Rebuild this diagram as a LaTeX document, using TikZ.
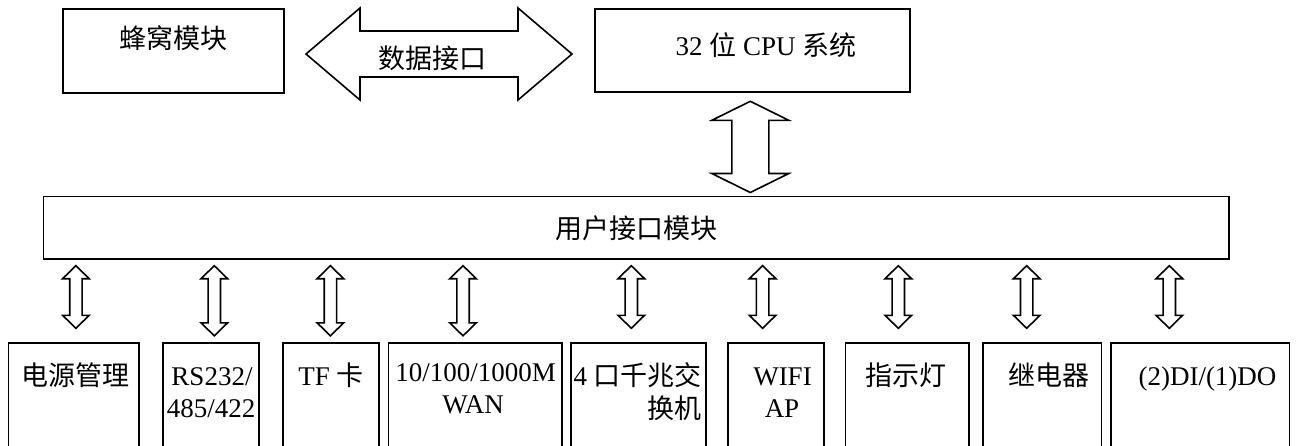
\documentclass[tikz,border=0pt]{standalone}
\usepackage{fontspec}
\setmainfont{Liberation Serif}
\newfontfamily\cjk{Noto Sans CJK SC}
\usetikzlibrary{calc}
% vertical double block arrow: #1 x, #2 upper node, #3 lower node, #4 top gap, #5 bottom gap,
% #6 head half width, #7 shaft half width, #8 head length
\newcommand\vdarrow[8]{%
  \coordinate (vt) at ($(#1,0 |- #2.south)+(0,#4)$);
  \coordinate (vb) at ($(#1,0 |- #3.north)-(0,#5)$);
  \draw[blockarrow] (vt) -- ($(vt)+(#6,#8)$) -- ($(vt)+(#7,#8)$) -- ($(vb)+(#7,-#8)$)
    -- ($(vb)+(#6,-#8)$) -- (vb) -- ($(vb)+(-#6,-#8)$) -- ($(vb)+(-#7,-#8)$)
    -- ($(vt)+(-#7,#8)$) -- ($(vt)+(-#6,#8)$) -- cycle;
}
\begin{document}
\begin{tikzpicture}[x=1pt,y=-1pt,
  box/.style={draw, line width=1.8pt, inner sep=0pt, outer sep=0pt, anchor=north west},
  lbl/.style={inner sep=0pt, anchor=base, font=\fontsize{27}{32}\selectfont},
  blockarrow/.style={draw, line width=1.6pt, fill=white, line join=miter}]
\useasboundingbox (0,0) rectangle (1299,445);
\clip (0,0) rectangle (1299,445);

% top row
\node[box, minimum width=220.7pt, minimum height=84pt] (cell) at (63.3,9.3) {};
\node[box, minimum width=315pt, minimum height=83pt] (cpu) at (595,9.3) {};
\node[lbl] (celltxt) at (173,48) {\cjk 蜂窝模块};
\node[lbl] (cputxt) at (766,55) {32 {\cjk 位} CPU {\cjk 系统}};

% horizontal data interface arrow
\coordinate (hl) at ($(cell.east |- 0,54)+(22,0)$);
\coordinate (hr) at ($(cpu.west |- 0,54)-(23,0)$);
\draw[blockarrow] (hl) -- ($(hl)+(54,-46)$) -- ($(hl)+(54,-23)$) -- ($(hr)+(-54,-23)$)
  -- ($(hr)+(-54,-46)$) -- (hr) -- ($(hr)+(-54,46)$) -- ($(hr)+(-54,23)$)
  -- ($(hl)+(54,23)$) -- ($(hl)+(54,46)$) -- cycle;
\node[lbl] (datatxt) at (432,68) {\cjk 数据接口};

% user interface module
\node[box, minimum width=1185.5pt, minimum height=62.5pt] (ui) at (43.5,196.5) {};
\node[lbl] (uitxt) at (636,238) {\cjk 用户接口模块};

\vdarrow{750.3}{cpu}{ui}{9}{4}{38.5}{18.5}{19}

% bottom boxes
\node[box, minimum width=130.8pt, minimum height=130pt] (b1) at (8.5,343.3) {};
\node[box, minimum width=96pt, minimum height=130pt] (b2) at (163,343.3) {};
\node[box, minimum width=96.6pt, minimum height=130pt] (b3) at (282.7,343.3) {};
\node[box, minimum width=173.3pt, minimum height=130pt] (b4) at (388.4,343.3) {};
\node[box, minimum width=135pt, minimum height=130pt] (b5) at (570.7,343.3) {};
\node[box, minimum width=96.5pt, minimum height=130pt] (b6) at (727.8,343.3) {};
\node[box, minimum width=123.3pt, minimum height=130pt] (b7) at (845.4,343.3) {};
\node[box, minimum width=118.5pt, minimum height=130pt] (b8) at (983,343.3) {};
\node[box, minimum width=178.4pt, minimum height=130pt] (b9) at (1111,343.3) {};

\node[lbl] (t1) at (75,385) {\cjk 电源管理};
\node[lbl] (t2a) at (212,385) {RS232/};
\node[lbl] (t2b) at (211,417) {485/422};
\node[lbl] (t3) at (331,385) {TF {\cjk 卡}};
\node[lbl] (t4a) at (475.7,381) {10/100/1000M};
\node[lbl] (t4b) at (473,413) {WAN};
\node[lbl, anchor=base east] (t5a) at (702,385) {4 {\cjk 口千兆交}};
\node[lbl, anchor=base east] (t5b) at (702,418) {\cjk 换机};
\node[lbl] (t6a) at (782.5,385) {WIFI};
\node[lbl] (t6b) at (782,417) {AP};
\node[lbl] (t7) at (906,385) {\cjk 指示灯};
\node[lbl] (t8) at (1049,385) {\cjk 继电器};
\node[lbl] (t9) at (1207.5,385) {(2)DI/(1)DO};

% small arrows
\vdarrow{75.9}{ui}{b1}{6.7}{15}{13.3}{6.2}{13}
\vdarrow{214.3}{ui}{b2}{6.7}{7.5}{13.3}{6.2}{13}
\vdarrow{330.4}{ui}{b3}{6.7}{7.5}{13.3}{6.2}{13}
\vdarrow{463}{ui}{b4}{6.7}{7.5}{13.3}{6.2}{13}
\vdarrow{631.3}{ui}{b5}{6.7}{15}{13.3}{6.2}{13}
\vdarrow{762.6}{ui}{b6}{6.7}{15}{13.3}{6.2}{13}
\vdarrow{898.3}{ui}{b7}{6.7}{15}{13.3}{6.2}{13}
\vdarrow{1026.7}{ui}{b8}{6.7}{15}{13.3}{6.2}{13}
\vdarrow{1169.3}{ui}{b9}{6.7}{15}{13.3}{6.2}{13}
\end{tikzpicture}
\end{document}
